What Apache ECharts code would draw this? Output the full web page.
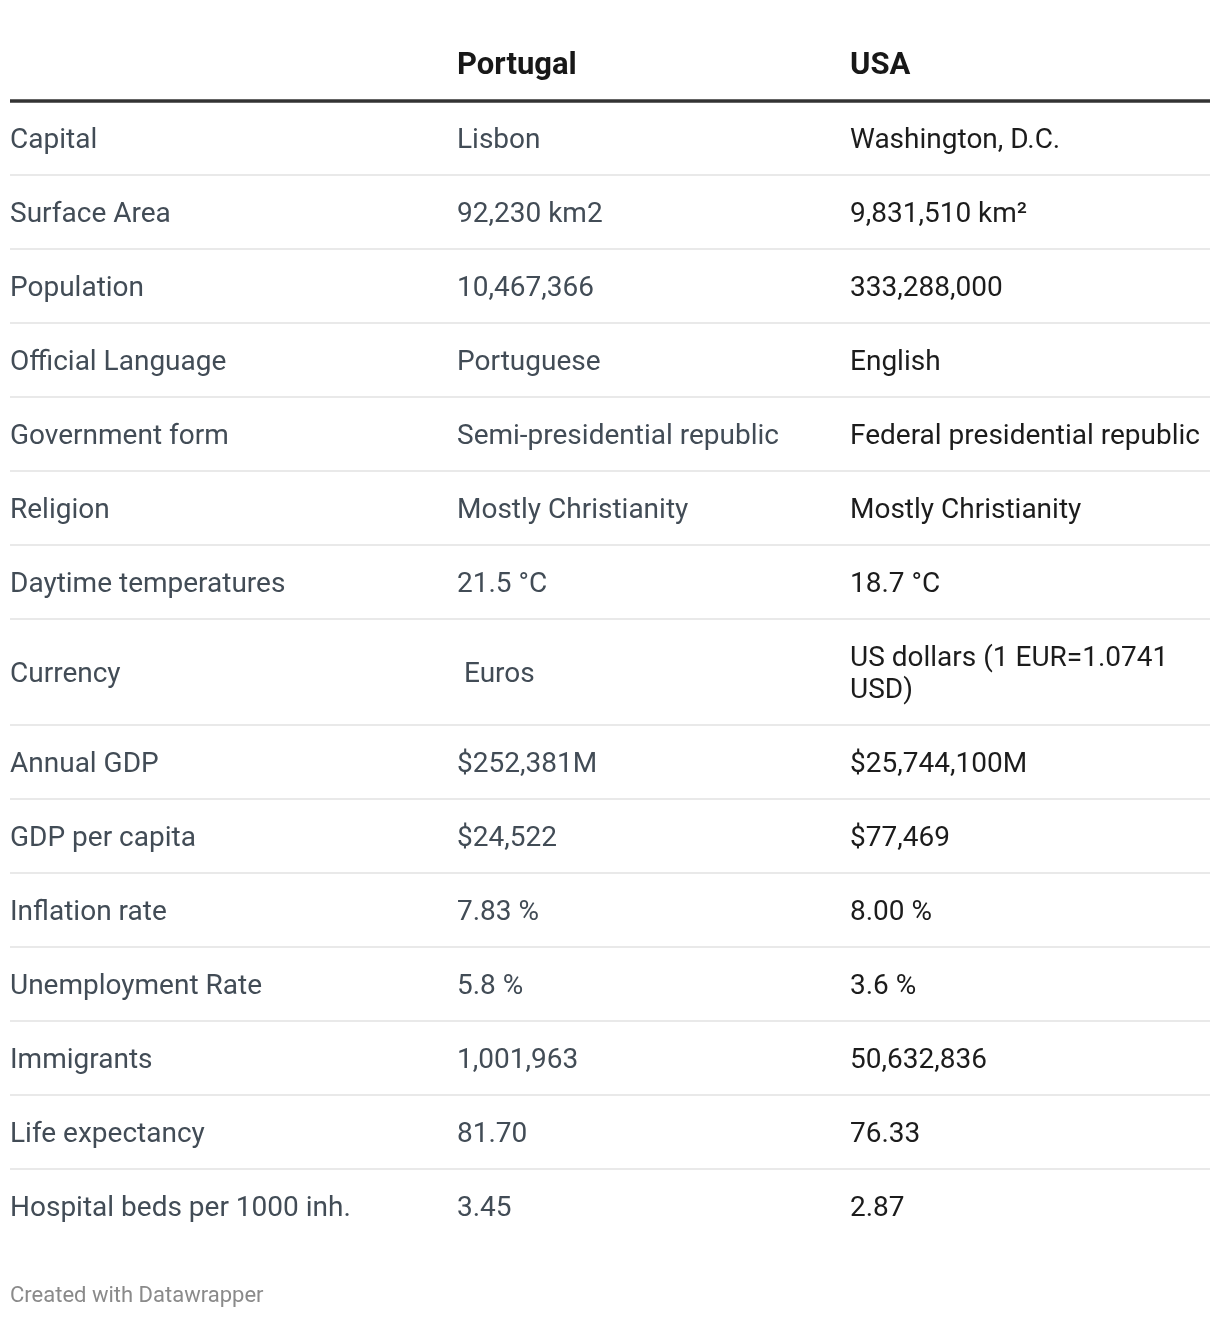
<!DOCTYPE html>
<html>
<head>
<meta charset="utf-8">
<script src="https://cdn.jsdelivr.net/npm/echarts@6/dist/echarts.min.js"></script>
<style>
html,body{margin:0;padding:0;background:#fff;}
#chart{width:1220px;height:1318px;}
</style>
</head>
<body>
<div id="chart"></div>
<script>
// ---- data ----
const columnHeaders = ['', 'Portugal', 'USA'];
const rowLabels = [
  'Capital', 'Surface Area', 'Population', 'Official Language', 'Government form',
  'Religion', 'Daytime temperatures', 'Currency', 'Annual GDP', 'GDP per capita',
  'Inflation rate', 'Unemployment Rate', 'Immigrants', 'Life expectancy',
  'Hospital beds per 1000 inh.'
];
const portugalValues = [
  'Lisbon', '92,230 km2', '10,467,366', 'Portuguese', 'Semi-presidential republic',
  'Mostly Christianity', '21.5 °C', ' Euros', '$252,381M', '$24,522',
  '7.83 %', '5.8 %', '1,001,963', '81.70', '3.45'
];
const usaValues = [
  'Washington, D.C.', '9,831,510 km²', '333,288,000', 'English', 'Federal presidential republic',
  'Mostly Christianity', '18.7 °C', 'US dollars (1 EUR=1.0741 USD)', '$25,744,100M', '$77,469',
  '8.00 %', '3.6 %', '50,632,836', '76.33', '2.87'
];
const footerText = 'Created with Datawrapper';

// ---- layout / style constants ----
const FONT_FAMILY = 'Roboto, "Noto Sans", sans-serif';
const BODY_SIZE = 28;
const HEAD_SIZE = 31;
const LINE_H = 32;
const ROW_H = 74;
const GRID_LEFT = 10, GRID_WIDTH = 1200, GRID_TOP = 27;
const colStart = [0, 0.3725, 0.7];
const colEnd = [0.3725, 0.7, 1.0];
const colColors = ['#424c56', '#424c56', '#1c1c1c'];
const WRAP_PAD = 2;
const BODY_DY = 3, HEAD_DY = 2;

// word-wrap text to a column width
const mctx = document.createElement('canvas').getContext('2d');
mctx.font = BODY_SIZE + 'px ' + FONT_FAMILY;
function wrapText(text, width) {
  const lead = text.match(/^\s*/)[0];
  const words = text.trim().split(' ');
  const lines = [];
  let cur = '';
  words.forEach(w => {
    const test = cur ? cur + ' ' + w : w;
    if (mctx.measureText(lead + test).width > width && cur) { lines.push(cur); cur = w; }
    else cur = test;
  });
  lines.push(cur);
  lines[0] = lead + lines[0];
  return lines;
}
const columns = [rowLabels, portugalValues, usaValues];
const wrapped = columns.map((col, c) =>
  col.map(t => wrapText(t, (colEnd[c] - colStart[c]) * GRID_WIDTH - WRAP_PAD * 2)));
const rows = [];
let acc = ROW_H; // header row
rowLabels.forEach((_, r) => {
  const maxLines = Math.max.apply(null, wrapped.map(col => col[r].length));
  const h = ROW_H + (maxLines - 1) * LINE_H;
  rows.push({ top: acc, bottom: acc + h });
  acc += h;
});
const TOTAL = acc;

// cell data: [col, top, bottom, rowIndex(-1 header)]
const cellData = [];
columnHeaders.forEach((h, c) => cellData.push([c, 0, ROW_H, -1]));
rows.forEach((rw, r) => columns.forEach((col, c) => cellData.push([c, rw.top, rw.bottom, r])));
// separators: [y, isHeader]
const sepData = [[ROW_H, 1]];
rows.forEach((rw, r) => { if (r < rows.length - 1) sepData.push([rw.bottom, 0]); });

const chart = echarts.init(document.getElementById('chart'), null, { renderer: 'canvas' });
chart.setOption({
  backgroundColor: '#ffffff',
  animation: false,
  title: {
    text: footerText, left: 10, top: 1285, padding: 0,
    textStyle: { fontFamily: FONT_FAMILY, fontSize: 22, fontWeight: 'normal', color: '#8a8a8a' }
  },
  grid: { left: GRID_LEFT, width: GRID_WIDTH, top: GRID_TOP, height: TOTAL },
  xAxis: { type: 'value', min: 0, max: 1, show: false },
  yAxis: { type: 'value', min: 0, max: TOTAL, inverse: true, show: false },
  series: [
    {
      type: 'custom',
      data: sepData,
      renderItem: function (params, api) {
        const y = api.value(0);
        const a = api.coord([0, y]);
        const b = api.coord([1, y]);
        const head = api.value(1) === 1;
        return {
          type: 'line',
          shape: { x1: a[0], y1: a[1], x2: b[0], y2: b[1] },
          style: { stroke: head ? '#333333' : '#e9e9e9', lineWidth: head ? 3.5 : 2 }
        };
      }
    },
    {
      type: 'custom',
      data: cellData,
      renderItem: function (params, api) {
        const c = api.value(0), top = api.value(1), bottom = api.value(2), r = api.value(3);
        const p0 = api.coord([colStart[c], top]);
        const p1 = api.coord([colStart[c], bottom]);
        const isHead = r < 0;
        const text = isHead ? columnHeaders[c] : wrapped[c][r].join('\n');
        return {
          type: 'text',
          x: p0[0],
          y: (p0[1] + p1[1]) / 2 + (isHead ? HEAD_DY : BODY_DY),
          style: {
            text: text,
            fontFamily: FONT_FAMILY,
            fontSize: isHead ? HEAD_SIZE : BODY_SIZE,
            fontWeight: isHead ? 'bold' : 'normal',
            fill: isHead ? '#181818' : colColors[c],
            lineHeight: LINE_H,
            align: 'left',
            verticalAlign: 'middle'
          }
        };
      }
    }
  ]
});
</script>
</body>
</html>
